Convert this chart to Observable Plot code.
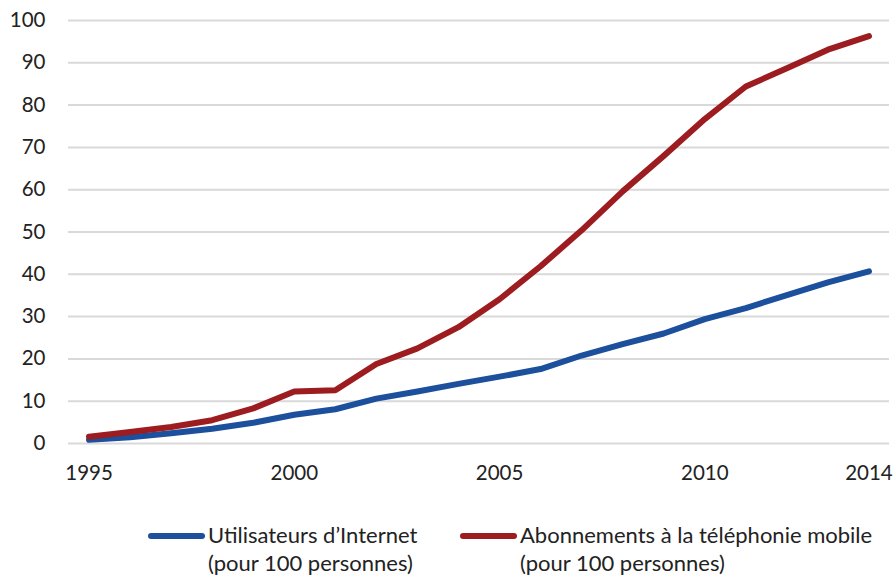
<!DOCTYPE html>
<html>
<head>
<meta charset="utf-8">
<script src="https://cdn.jsdelivr.net/npm/d3@7"></script>
<script src="https://cdn.jsdelivr.net/npm/@observablehq/plot@0.6"></script>
<style>
  html, body { margin: 0; padding: 0; background: #fff; }
  body { width: 894px; height: 578px; overflow: hidden; font-family: Lato, "Open Sans", sans-serif; color: #222; }
  #chart { position: absolute; left: 0; top: 0; }
  .legend { position: absolute; top: 521px; left: 0; width: 894px; height: 56px; font-size: 22px; line-height: 28px; }
  .item { position: absolute; top: 0; display: flex; align-items: flex-start; }
  .sw { width: 57px; height: 6px; border-radius: 3px; margin-top: 12px; margin-right: 3px; }
</style>
</head>
<body>
<div id="chart"></div>
<div class="legend" id="legend"></div>
<script>
const years = [1995,1996,1997,1998,1999,2000,2001,2002,2003,2004,2005,2006,2007,2008,2009,2010,2011,2012,2013,2014];
const internet = [0.9,1.5,2.4,3.5,4.9,6.8,8.1,10.6,12.3,14.1,15.8,17.6,20.8,23.5,26.0,29.4,32.0,35.1,38.1,40.7];
const mobile = [1.6,2.7,3.9,5.5,8.3,12.3,12.6,18.8,22.5,27.5,34.1,41.9,50.4,59.6,68.0,76.7,84.4,88.7,93.1,96.3];
const seriesNames = ["Utilisateurs d\u2019Internet", "Abonnements \u00e0 la t\u00e9l\u00e9phonie mobile"];
const seriesSub = "(pour 100 personnes)";
const seriesColors = ["#1c4f9c", "#9c1c20"];
const xTicks = [1995, 2000, 2005, 2010, 2014];
const yTicks = [0,10,20,30,40,50,60,70,80,90,100];

const data = [];
years.forEach((y, i) => {
  data.push({year: y, value: internet[i], series: seriesNames[0]});
  data.push({year: y, value: mobile[i], series: seriesNames[1]});
});

const chart = Plot.plot({
  width: 894,
  height: 490,
  marginLeft: 68,
  marginRight: 5,
  marginTop: 20,
  marginBottom: 47,
  style: {fontFamily: "Lato, 'Open Sans', sans-serif", fontSize: "20.5px", color: "#222", background: "#fff", overflow: "visible"},
  x: {domain: [1994.5, 2014.5], ticks: xTicks, tickFormat: d => String(d), tickSize: 0, tickPadding: 22, label: null},
  y: {domain: [0, 100], ticks: yTicks, tickSize: 0, tickPadding: 23, label: null},
  color: {domain: seriesNames, range: seriesColors},
  marks: [
    Plot.ruleY(yTicks, {stroke: "#d9d9d9", strokeWidth: 2}),
    Plot.line(data, {x: "year", y: "value", z: "series", stroke: "series", strokeWidth: 6, strokeLinecap: "round", strokeLinejoin: "round"})
  ]
});
chart.querySelectorAll("text").forEach(t => t.setAttribute("fill", "#222"));
document.getElementById("chart").appendChild(chart);

const legend = document.getElementById("legend");
const lefts = [148, 460];
seriesNames.forEach((name, i) => {
  const item = document.createElement("div");
  item.className = "item";
  item.style.left = lefts[i] + "px";
  const sw = document.createElement("div");
  sw.className = "sw";
  sw.style.background = seriesColors[i];
  const txt = document.createElement("div");
  txt.innerHTML = name + "<br>" + seriesSub;
  item.appendChild(sw);
  item.appendChild(txt);
  legend.appendChild(item);
});
</script>
</body>
</html>
